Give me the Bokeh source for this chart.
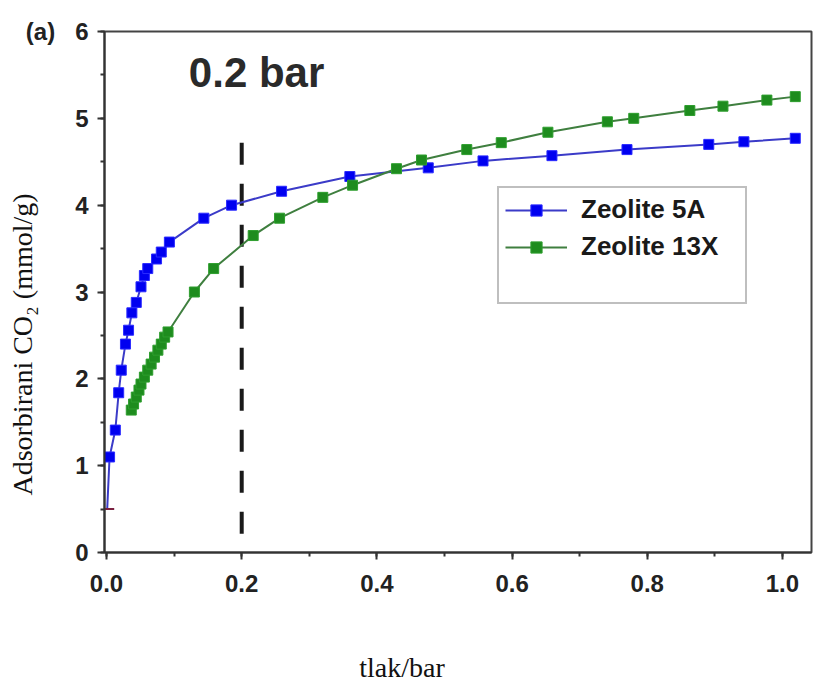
from bokeh.plotting import figure
from bokeh.models import (Range1d, SingleIntervalTicker, Legend, LegendItem, Label,
                          CustomJSTickFormatter)
from bokeh.embed import file_html
from bokeh.resources import INLINE

# ---- data ----
zeolite_5a_p = [0.001, 0.0045, 0.013, 0.018, 0.0218, 0.028, 0.0326, 0.0375, 0.044, 0.051,
                0.056, 0.061, 0.074, 0.081, 0.093, 0.144, 0.185, 0.259, 0.36, 0.476,
                0.557, 0.659, 0.770, 0.891, 0.943, 1.019]
zeolite_5a_q = [0.5, 1.1, 1.41, 1.84, 2.10, 2.40, 2.56, 2.76, 2.88, 3.06,
                3.19, 3.27, 3.38, 3.46, 3.575, 3.85, 4.00, 4.16, 4.33, 4.43,
                4.51, 4.57, 4.64, 4.70, 4.73, 4.77]
zeolite_13x_p = [0.0366, 0.040, 0.044, 0.048, 0.051, 0.056, 0.061, 0.066, 0.071, 0.076,
                 0.081, 0.086, 0.091, 0.130, 0.1585, 0.217, 0.256, 0.320, 0.364, 0.429,
                 0.466, 0.533, 0.584, 0.653, 0.741, 0.780, 0.863, 0.912, 0.977, 1.019]
zeolite_13x_q = [1.64, 1.71, 1.79, 1.87, 1.94, 2.02, 2.10, 2.17, 2.25, 2.33,
                 2.40, 2.48, 2.54, 3.00, 3.27, 3.65, 3.85, 4.09, 4.23, 4.42,
                 4.52, 4.64, 4.72, 4.84, 4.96, 5.00, 5.09, 5.14, 5.21, 5.25]
series_names = ["Zeolite 5A", "Zeolite 13X"]
marker_pressure = 0.2
marker_line_top = 4.72
marker_text = "0.2 bar"
panel_tag = "(a)"
x_label = "tlak/bar"
y_label = "Adsorbirani CO\u2082 (mmol/g)"

SANS = "Liberation Sans"
SERIF = "Liberation Serif"
NB = "\u00a0"

p = figure(width=815, height=686, output_backend="svg", toolbar_location=None,
           x_range=Range1d(-0.003, 1.043), y_range=Range1d(0, 6),
           min_border_left=104, min_border_right=4, min_border_top=31, min_border_bottom=134)
p.background_fill_color = "white"
p.border_fill_color = "white"
p.xgrid.visible = False
p.ygrid.visible = False
p.outline_line_color = "#444444"
p.outline_line_width = 2

p.xaxis.ticker = SingleIntervalTicker(interval=0.2, num_minor_ticks=2)
p.yaxis.ticker = SingleIntervalTicker(interval=1, num_minor_ticks=2)
for ax in (p.xaxis[0], p.yaxis[0]):
    ax.axis_line_color = "#333333"
    ax.axis_line_width = 2
    ax.major_tick_line_color = "#333333"
    ax.major_tick_line_width = 2
    ax.minor_tick_line_color = "#333333"
    ax.minor_tick_line_width = 2
    ax.major_tick_out = 7
    ax.major_tick_in = 0
    ax.minor_tick_out = 4
    ax.minor_tick_in = 0
    ax.major_label_text_font = SANS
    ax.major_label_text_font_style = "bold"
    ax.major_label_text_font_size = "24px"
    ax.major_label_text_color = "#222222"
    ax.axis_label_text_font = SERIF
    ax.axis_label_text_font_style = "normal"
    ax.axis_label_text_font_size = "28px"
    ax.axis_label_text_color = "#111111"

p.xaxis.formatter = CustomJSTickFormatter(code="return tick.toFixed(1);")
p.yaxis.formatter = CustomJSTickFormatter(
    args=dict(tag=panel_tag + NB * 3),
    code="return (Math.abs(tick - 6) < 1e-9 ? tag : '') + tick.toFixed(0);")
p.xaxis.axis_label = x_label + NB * 16
p.yaxis.axis_label = y_label + NB * 15
p.xaxis.major_label_standoff = 15
p.yaxis.major_label_standoff = 9
p.xaxis.axis_label_standoff = 57
p.yaxis.axis_label_standoff = -15

# dashed threshold line
p.segment(x0=[marker_pressure], y0=[marker_line_top], x1=[marker_pressure], y1=[0],
          line_color="#1a1a1a", line_width=4, line_dash="22 19")

# series
bl = p.line(zeolite_5a_p, zeolite_5a_q, line_color="#3b3bc8", line_width=2)
bs = p.scatter(zeolite_5a_p[1:], zeolite_5a_q[1:], marker="square", size=10,
               fill_color="#0000f0", line_color="#2a2aff", line_width=1)
p.scatter(zeolite_5a_p[:1], zeolite_5a_q[:1], marker="dash", size=14,
          line_color="#7a2040", line_width=2)

gl = p.line(zeolite_13x_p, zeolite_13x_q, line_color="#3f7f3f", line_width=2)
gs = p.scatter(zeolite_13x_p, zeolite_13x_q, marker="square", size=10,
               fill_color="#1e8c1e", line_color="#2e9e2e", line_width=1)

dummy = p.scatter(x=[], y=[], fill_alpha=0, line_alpha=0)

legend = Legend(items=[LegendItem(label=series_names[0], renderers=[bl, bs]),
                       LegendItem(label=series_names[1], renderers=[gl, gs]),
                       LegendItem(label=" ", renderers=[dummy])],
                location=(393, 248))
legend.label_text_font = SANS
legend.label_text_font_style = "bold"
legend.label_text_font_size = "26px"
legend.label_text_color = "#1a1a1a"
legend.label_height = 28
legend.glyph_height = 28
legend.glyph_width = 62
legend.label_standoff = 14
legend.label_width = 158
legend.spacing = 6
legend.padding = 6
legend.margin = 0
legend.border_line_color = "#808080"
legend.border_line_width = 2
legend.background_fill_color = "white"
legend.background_fill_alpha = 1
legend.inactive_fill_alpha = 0
p.add_layout(legend)

p.add_layout(Label(x=marker_pressure + 0.022, y=5.53, text=marker_text, text_align="center",
                   text_baseline="alphabetic", text_font=SANS, text_font_style="bold",
                   text_font_size="42px", text_color="#2a2a2a"))

open("out.html", "w").write(file_html(p, INLINE))
